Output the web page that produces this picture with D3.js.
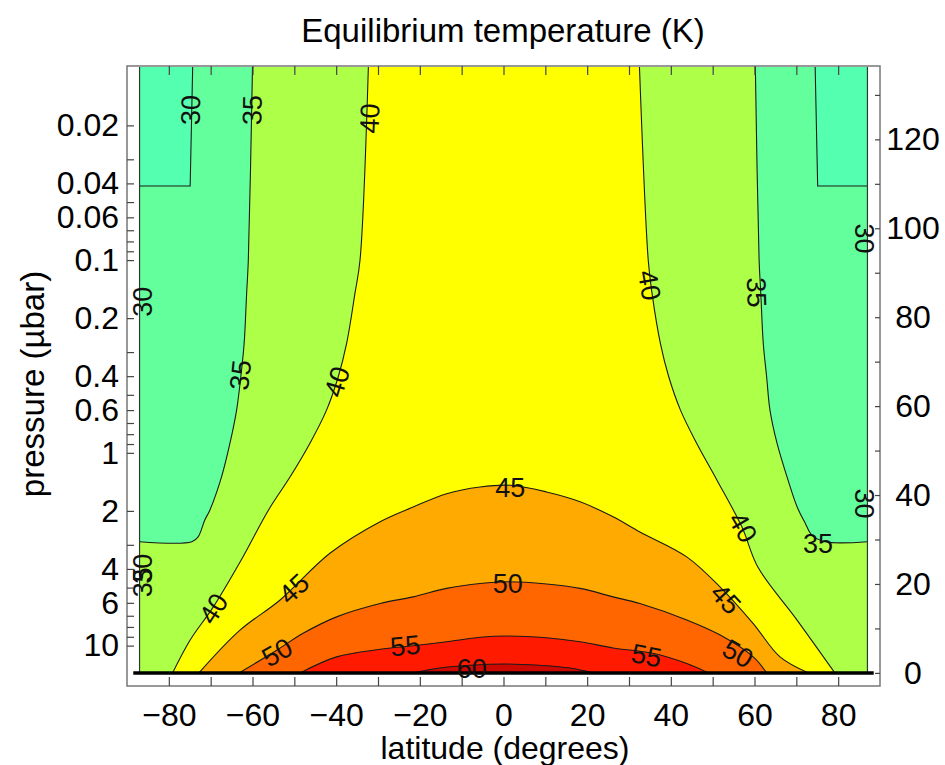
<!DOCTYPE html>
<html>
<head>
<meta charset="utf-8">
<script src="https://cdn.jsdelivr.net/npm/d3@7"></script>
<style>
  body { margin: 0; background: #fff; }
  text { font-family: "Liberation Sans", Arial, sans-serif; }
</style>
</head>
<body>
<svg id="chart" width="945" height="765"></svg>
<script>
// contour lines, as [latitude (deg), altitude (km)]
// left / right branches go from the top of the plot downwards
const c30Left = [[-87, 109.5], [-74.9, 109.5], [-74.3, 136.3]];
const c30Right = [[74.5, 136.3], [75.1, 109.5], [87, 109.5]];
const c35Left = [[-60.0, 136.3], [-61.0, 92.8], [-61.4, 85.4], [-62.0, 74.1], [-62.8, 66.6], [-63.8, 59.1],
    [-65.4, 51.6], [-67.4, 44.1], [-70.2, 36.6], [-71.4, 34.4], [-73.0, 30.6], [-74.5, 29.5], [-87, 29.5]];
const c35Right = [[60.2, 136.3], [61.1, 92.8], [61.5, 85.4], [62.1, 74.1], [62.9, 66.6], [63.7, 59.1],
    [65.4, 51.6], [68.0, 43.4], [70.2, 37.3], [72.1, 33.7], [73.7, 31.0], [76.9, 29.5], [87, 29.5]];
const c40Left = [[-32.3, 136.3], [-34.3, 92.8], [-35.5, 85.4], [-37.5, 74.1], [-39.5, 66.6], [-42.3, 59.1],
    [-46.3, 51.6], [-51.0, 44.1], [-56.2, 36.6], [-62.7, 25.4], [-69.4, 14.8], [-74.9, 7.4], [-79.1, 0]];
const c40Right = [[32.5, 136.3], [34.6, 92.8], [35.5, 85.4], [37.5, 74.1], [39.5, 66.6], [42.3, 59.1],
    [46.2, 51.6], [51.0, 43.4], [57.0, 32.8], [60.8, 23.8], [70.0, 12.1], [79.2, 0]];
// closed domes over the equator, left to right
const c45 = [[-72.8, 0], [-63.0, 9.6], [-53.4, 16.4], [-41.5, 26.9], [-29.5, 34.0], [-21.6, 37.3], [-13.6, 40.3],
    [-5.6, 41.8], [1.6, 42.2], [10.3, 40.7], [18.3, 38.5], [26.2, 35.1], [32.6, 31.7], [43.8, 26.1],
    [51.8, 19.3], [59.7, 11.1], [66.1, 3.6], [72.9, 0]];
const c50 = [[-63.2, 0], [-54.2, 5.1], [-47.9, 8.9], [-39.9, 12.6], [-29.5, 15.6], [-21.6, 17.1], [-13.6, 19.0],
    [-5.6, 20.1], [1.1, 20.5], [10.3, 20.0], [18.3, 19.0], [26.2, 17.1], [32.6, 15.6], [43.8, 11.9],
    [51.8, 8.5], [59.7, 3.6], [62.9, 0]];
const c55 = [[-48.6, 0], [-39.9, 3.6], [-29.5, 5.3], [-21.6, 6.1], [-13.6, 7.0], [-5.6, 8.0], [0.8, 8.3],
    [10.3, 7.9], [18.3, 7.0], [26.2, 5.6], [35.7, 4.4], [43.8, 2.1], [49.0, 0]];
const c60 = [[-21.6, 0], [-15.2, 1.1], [-8.0, 1.7], [0.4, 2.0], [8.7, 1.7], [15.9, 1.1], [21.4, 0]];

// band colours: <30, 30-35, 35-40, 40-45, 45-50, 50-55, 55-60, >60
const bandColors = ['#55ffb0', '#62ff9c', '#adff48', '#ffff00', '#ffaa00', '#ff6600', '#ff1a00', '#cc0800'];

// contour labels [text, lat, alt, angle]
const contourLabels = [
    ['30', -74.9, 126.6, -89], ['35', -60.2, 126.6, -89], ['40', -32.1, 124.7, -88],
    ['30', -86.3, 83.5, -90], ['35', -63.0, 67.0, -84], ['40', -39.9, 65.5, -73],
    ['35', -86.3, 20.4, -90], ['30', -86.3, 23.4, -90],
    ['40', -69.4, 14.5, -57], ['45', -50.2, 19.0, -43], ['50', -54.2, 4.7, -30],
    ['45', 1.6, 41.8, 0], ['50', 1.0, 20.1, 0], ['55', -23.5, 6.2, -6], ['60', -7.6, 1.0, 0],
    ['55', 34.2, 4.0, 11], ['50', 56.1, 4.4, 30], ['45', 53.2, 16.7, 47], ['40', 57.3, 32.8, 60],
    ['35', 75.2, 29.1, 0], ['40', 35.0, 87.2, 80], ['35', 60.6, 85.6, 88],
    ['30', 86.4, 97.7, 90], ['30', 86.4, 38.1, 90]
];

// axes
const latExtent = [-90, 90];
const altExtent = [-2.95, 136.5];
const pressureExtent = [16.2, 0.00984];
const latMajor = [-80, -60, -40, -20, 0, 20, 40, 60, 80];
const latMinor = [-70, -50, -30, -10, 10, 30, 50, 70];
const pMajor = [0.02, 0.04, 0.06, 0.1, 0.2, 0.4, 0.6, 1, 2, 4, 6, 10];
const pMinor = [0.03, 0.05, 0.07, 0.08, 0.09, 0.3, 0.5, 0.7, 0.8, 0.9, 3, 5, 7, 8, 9];
const altMajor = [0, 20, 40, 60, 80, 100, 120];
const altMinor = [10, 30, 50, 70, 90, 110, 130];
const dataLat = 87;
const dataTop = 136.3;

const svg = d3.select('#chart');

const x = d3.scaleLinear().domain(latExtent).range([127, 880]);
const y = d3.scaleLinear().domain(altExtent).range([686, 66]);
const yP = d3.scaleLog().domain(pressureExtent).range([686, 66]);

const smooth = d3.line().x((d) => x(d[0])).y((d) => y(d[1])).curve(d3.curveCatmullRom.alpha(0.5));
const straight = d3.line().x((d) => x(d[0])).y((d) => y(d[1]));
const cont = (s) => 'L' + s.slice(1);
const rev = (a) => a.slice().reverse();

svg.append('clipPath').attr('id', 'clip')
    .append('rect')
    .attr('x', x(-dataLat)).attr('y', y(dataTop))
    .attr('width', x(dataLat) - x(-dataLat)).attr('height', y(0) - y(dataTop));

const plot = svg.append('g').attr('clip-path', 'url(#clip)');

// background band 30-35
plot.append('rect')
    .attr('x', x(-dataLat)).attr('y', y(dataTop))
    .attr('width', x(dataLat) - x(-dataLat)).attr('height', y(0) - y(dataTop))
    .attr('fill', bandColors[1]);

// filled regions, from the coldest to the warmest
const regions = [
    { d: straight([[-dataLat, dataTop], ...c30Left]) + 'Z', fill: bandColors[0] },
    { d: straight([...c30Right, [dataLat, dataTop]]) + 'Z', fill: bandColors[0] },
    {
        d: smooth(c35Left) + cont(straight([[-dataLat, 0], [dataLat, 0]])) + cont(smooth(rev(c35Right))) + 'Z',
        fill: bandColors[2]
    },
    { d: smooth(c40Left) + cont(smooth(rev(c40Right))) + 'Z', fill: bandColors[3] },
    { d: smooth(c45) + 'Z', fill: bandColors[4] },
    { d: smooth(c50) + 'Z', fill: bandColors[5] },
    { d: smooth(c55) + 'Z', fill: bandColors[6] },
    { d: smooth(c60) + 'Z', fill: bandColors[7] }
];

plot.selectAll('.region')
    .data(regions)
    .enter()
    .append('path')
    .attr('class', 'region')
    .attr('d', (d) => d.d)
    .attr('fill', (d) => d.fill);

// contour lines
const lines = [
    straight(c30Left), straight(c30Right),
    smooth(c35Left), smooth(c35Right), smooth(c40Left), smooth(c40Right),
    smooth(c45), smooth(c50), smooth(c55), smooth(c60)
];
plot.selectAll('.contour')
    .data(lines)
    .enter()
    .append('path')
    .attr('class', 'contour')
    .attr('d', (d) => d)
    .attr('fill', 'none')
    .attr('stroke', '#1a1a1a')
    .attr('stroke-width', 1.1);

// the 30 K line running along both edges of the data
[-dataLat, dataLat].forEach((lat) => {
    svg.append('line')
        .attr('x1', x(lat)).attr('x2', x(lat))
        .attr('y1', y(0)).attr('y2', y(dataTop))
        .attr('stroke', '#2a3a30')
        .attr('stroke-width', 1.2);
});

// surface line
svg.append('line')
    .attr('x1', x(-88.5)).attr('x2', x(88.5))
    .attr('y1', y(0)).attr('y2', y(0))
    .attr('stroke', '#000')
    .attr('stroke-width', 3.5);

// contour labels
svg.selectAll('.clabel')
    .data(contourLabels)
    .enter()
    .append('text')
    .attr('class', 'clabel')
    .attr('transform', (d) => `translate(${x(d[1])},${y(d[2])}) rotate(${d[3]})`)
    .attr('text-anchor', 'middle')
    .attr('dy', '0.36em')
    .style('font-size', '27px')
    .attr('fill', '#111')
    .text((d) => d[0]);

// frame
svg.append('rect')
    .attr('x', x(latExtent[0])).attr('y', y(altExtent[1]))
    .attr('width', x(latExtent[1]) - x(latExtent[0]))
    .attr('height', y(altExtent[0]) - y(altExtent[1]))
    .attr('fill', 'none')
    .attr('stroke', '#777')
    .attr('stroke-width', 1.5);

const styleAxis = (g) => {
    g.select('.domain').remove();
    g.selectAll('line').attr('stroke', '#444').attr('stroke-width', 1.2);
    g.selectAll('text').style('font-size', '32px').attr('fill', '#000')
        .style('font-family', '"Liberation Sans", Arial, sans-serif');
};

const fmt = d3.format('~g');

svg.append('g')
    .attr('transform', `translate(0,${y(altExtent[0])})`)
    .call(d3.axisBottom(x).tickValues(latMajor).tickSize(-9).tickPadding(17).tickFormat(d3.format('d')))
    .call(styleAxis);
svg.append('g')
    .attr('transform', `translate(0,${y(altExtent[0])})`)
    .call(d3.axisBottom(x).tickValues(latMinor).tickSize(-9).tickFormat(''))
    .call(styleAxis);
svg.append('g')
    .attr('transform', `translate(0,${y(altExtent[1])})`)
    .call(d3.axisTop(x).tickValues(latMajor.concat(latMinor)).tickSize(-9).tickFormat(''))
    .call(styleAxis);

svg.append('g')
    .attr('transform', `translate(${x(latExtent[0])},0)`)
    .call(d3.axisLeft(yP).tickValues(pMajor).tickSize(-7).tickPadding(8).tickFormat(fmt))
    .call(styleAxis);
svg.append('g')
    .attr('transform', `translate(${x(latExtent[0])},0)`)
    .call(d3.axisLeft(yP).tickValues(pMinor).tickSize(-7).tickFormat(''))
    .call(styleAxis);

svg.append('g')
    .attr('transform', `translate(${x(latExtent[1])},0)`)
    .call(d3.axisRight(y).tickValues(altMajor).tickSize(-5).tickFormat(d3.format('d')))
    .call(styleAxis)
    .call((g) => g.selectAll('text').attr('text-anchor', 'middle').attr('x', 33));
svg.append('g')
    .attr('transform', `translate(${x(latExtent[1])},0)`)
    .call(d3.axisRight(y).tickValues(altMinor).tickSize(-5).tickFormat(''))
    .call(styleAxis);

// titles
svg.append('text')
    .attr('x', 503).attr('y', 42)
    .attr('text-anchor', 'middle')
    .style('font-size', '33px')
    .text('Equilibrium temperature (K)');

svg.append('text')
    .attr('x', 505).attr('y', 759)
    .attr('text-anchor', 'middle')
    .style('font-size', '32px')
    .text('latitude (degrees)');

svg.append('text')
    .attr('transform', 'translate(44,384) rotate(-90)')
    .attr('text-anchor', 'middle')
    .style('font-size', '33px')
    .text('pressure (µbar)');
</script>
</body>
</html>
